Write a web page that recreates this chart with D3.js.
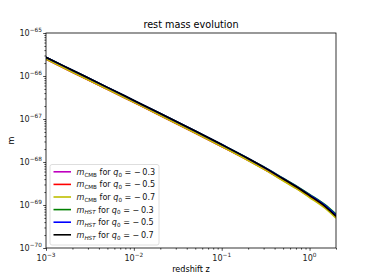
<!DOCTYPE html>
<html>
<head>
<meta charset="utf-8">
<script src="https://cdn.jsdelivr.net/npm/d3@7"></script>
<style>
  body { margin: 0; background: #fff; }
  text { font-family: "DejaVu Sans", sans-serif; }
</style>
</head>
<body>
<script>
// redshift grid shared by all curves
var zValues = [0.001, 0.002, 0.005, 0.01, 0.02, 0.05, 0.1, 0.2, 0.3, 0.5, 0.7, 1.0, 1.5, 2.0];

// log10 of the rest mass
var hst07 = [-65.565, -65.866, -66.264, -66.568, -66.872, -67.280, -67.595, -67.920, -68.120, -68.390, -68.570, -68.780, -69.030, -69.260];
var hst05 = [-65.565, -65.866, -66.264, -66.568, -66.872, -67.280, -67.595, -67.917, -68.116, -68.383, -68.560, -68.766, -69.011, -69.237];
var hst03 = [-65.565, -65.866, -66.264, -66.568, -66.872, -67.280, -67.595, -67.915, -68.112, -68.376, -68.550, -68.753, -68.993, -69.214];
var cmb07 = [-65.610, -65.911, -66.309, -66.613, -66.917, -67.325, -67.640, -67.965, -68.165, -68.435, -68.615, -68.825, -69.075, -69.305];
var cmb05 = [-65.610, -65.911, -66.309, -66.613, -66.917, -67.325, -67.640, -67.962, -68.161, -68.428, -68.605, -68.811, -69.056, -69.282];
var cmb03 = [-65.610, -65.911, -66.309, -66.613, -66.917, -67.325, -67.640, -67.960, -68.157, -68.421, -68.595, -68.798, -69.038, -69.259];

var xTickExps = [-3, -2, -1, 0];
var yTickExps = [-70, -69, -68, -67, -66, -65];

// legend order = drawing order
var seriesNames = ["CMB", "CMB", "CMB", "HST", "HST", "HST"];
var seriesQ0 = ["0.3", "0.5", "0.7", "0.3", "0.5", "0.7"];
var seriesColors = ["#bf00bf", "#ff0000", "#bfbf00", "#008000", "#0000ff", "#000000"];
var seriesData = [cmb03, cmb05, cmb07, hst03, hst05, hst07];

function main(){
  var w = 374, h = 280;
  var left = 46, right = 336, top = 33, bottom = 248;

  var svg = d3.select("body").append("svg")
    .attr("width", w).attr("height", h);

  var x = d3.scaleLog().domain([1e-3, 2]).range([left, right]);
  var y = d3.scaleLog().domain([1e-70, 1e-65]).range([bottom, top]);

  // minor ticks (2..9 in each decade)
  var xMinor = [], yMinor = [];
  for (var e = -3; e <= 0; e++) {
    for (var k = 2; k <= 9; k++) {
      var v = k * Math.pow(10, e);
      if (v <= 2) xMinor.push(v);
    }
  }
  for (var e2 = -70; e2 < -65; e2++) {
    for (var k2 = 2; k2 <= 9; k2++) yMinor.push(k2 * Math.pow(10, e2));
  }

  var g = svg.append("g");

  g.append("g").attr("transform", "translate(0," + bottom + ")")
    .call(d3.axisBottom(x).tickValues(xMinor).tickSize(1.6).tickFormat(""));
  g.append("g").attr("transform", "translate(0," + bottom + ")")
    .call(d3.axisBottom(x).tickValues(xTickExps.map(function(d){ return Math.pow(10, d); })).tickSize(2.8).tickFormat(""));
  g.append("g").attr("transform", "translate(" + left + ",0)")
    .call(d3.axisLeft(y).tickValues(yMinor).tickSize(1.6).tickFormat(""));
  g.append("g").attr("transform", "translate(" + left + ",0)")
    .call(d3.axisLeft(y).tickValues(yTickExps.map(function(d){ return Math.pow(10, d); })).tickSize(2.8).tickFormat(""));
  g.selectAll(".domain").remove();
  g.selectAll(".tick line").attr("stroke", "#000").attr("stroke-width", 0.7);

  // x tick labels
  xTickExps.forEach(function(e){
    var t = svg.append("text").attr("x", x(Math.pow(10, e))).attr("y", 261)
      .attr("text-anchor", "middle").attr("font-size", 8.1).attr("fill", "#222");
    t.append("tspan").text("10");
    t.append("tspan").attr("dy", -4).attr("font-size", 5.8).text(e < 0 ? "\u2212" + (-e) : e);
  });
  // y tick labels
  yTickExps.forEach(function(e){
    var t = svg.append("text").attr("x", 42).attr("y", y(Math.pow(10, e)) + 3)
      .attr("text-anchor", "end").attr("font-size", 8.1).attr("fill", "#222");
    t.append("tspan").text("10");
    t.append("tspan").attr("dy", -4).attr("font-size", 5.8).text("\u2212" + (-e));
  });

  // curves
  svg.append("clipPath").attr("id", "clip")
    .append("rect").attr("x", left).attr("y", top).attr("width", right - left).attr("height", bottom - top);

  var line = d3.line()
    .x(function(d){ return x(d[0]); })
    .y(function(d){ return y(Math.pow(10, d[1])); })
    .curve(d3.curveMonotoneX);

  svg.append("g").attr("clip-path", "url(#clip)")
    .selectAll("path")
    .data(seriesData)
    .enter()
    .append("path")
    .attr("d", function(d){ return line(zValues.map(function(z, i){ return [z, d[i]]; })); })
    .attr("fill", "none")
    .attr("stroke", function(d, i){ return seriesColors[i]; })
    .attr("stroke-width", 1.6);

  // frame
  svg.append("rect").attr("x", left).attr("y", top)
    .attr("width", right - left).attr("height", bottom - top)
    .attr("fill", "none").attr("stroke", "#000").attr("stroke-width", 0.8);

  // title and labels
  svg.append("text").attr("x", (left + right) / 2).attr("y", 28)
    .attr("text-anchor", "middle").attr("font-size", 9.7).text("rest mass evolution");
  svg.append("text").attr("x", (left + right) / 2).attr("y", 272)
    .attr("text-anchor", "middle").attr("font-size", 8.1).text("redshift z");
  svg.append("text").attr("transform", "translate(14," + ((top + bottom) / 2) + ") rotate(-90)")
    .attr("text-anchor", "middle").attr("font-size", 8.1).text("m");

  // legend
  var lx = 50, ly = 164.5, rowH = 12.6;
  svg.append("rect").attr("x", lx).attr("y", ly).attr("width", 109).attr("height", 80.5)
    .attr("rx", 2).attr("fill", "#fff").attr("fill-opacity", 0.8)
    .attr("stroke", "#d6d6d6").attr("stroke-width", 0.8);

  seriesNames.forEach(function(name, i){
    var cy = ly + 7.3 + i * rowH;
    svg.append("line").attr("x1", lx + 3.5).attr("x2", lx + 21)
      .attr("y1", cy).attr("y2", cy)
      .attr("stroke", seriesColors[i]).attr("stroke-width", 1.6);
    var t = svg.append("text").attr("x", lx + 26.5).attr("y", cy + 3)
      .attr("font-size", 8.1).attr("fill", "#111");
    t.append("tspan").attr("font-style", "italic").text("m");
    var sub = t.append("tspan").attr("dy", 1.8).attr("font-size", 5.6).text(name);
    if (name == "HST") sub.attr("font-style", "italic");
    t.append("tspan").attr("dy", -1.8).text(" for ");
    t.append("tspan").attr("font-style", "italic").text("q");
    t.append("tspan").attr("dy", 1.8).attr("font-size", 5.6).text("0");
    t.append("tspan").attr("dy", -1.8).text(" = \u2212\u2009" + seriesQ0[i]);
  });
}

window.onload = function() {
  main();
};
</script>
</body>
</html>
